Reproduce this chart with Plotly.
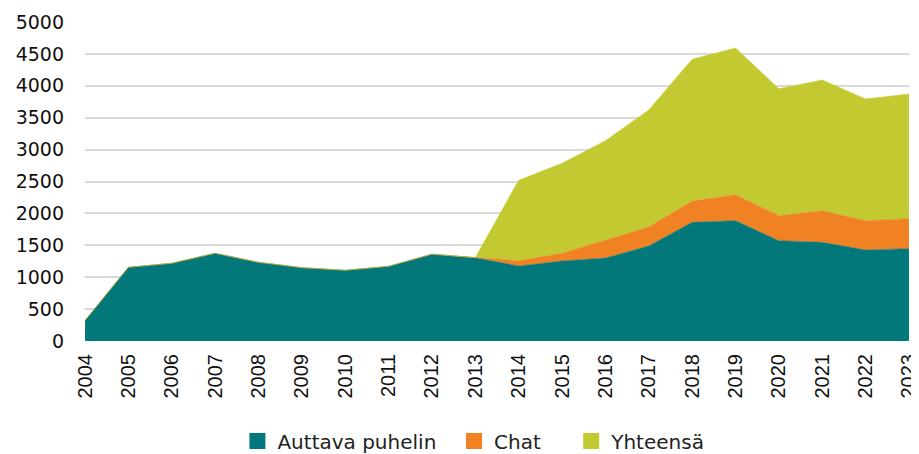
import plotly.graph_objects as go

years = list(range(2004, 2024))
auttava = [320, 1155, 1218, 1375, 1233, 1150, 1108, 1170, 1360, 1306,
           1175, 1254, 1300, 1489, 1860, 1886, 1572, 1546, 1426, 1447]
chat = [0, 0, 0, 0, 0, 0, 0, 0, 0, 0,
        84, 121, 283, 298, 334, 407, 392, 496, 460, 470]
yhteensa = [0, 0, 0, 0, 0, 0, 0, 0, 0, 0,
            1260, 1410, 1557, 1834, 2221, 2299, 1991, 2049, 1907, 1955]

FONT = "DejaVu Sans"
NB = "\u00a0"
fig = go.Figure()
series = [("Auttava puhelin", auttava, "#03787A", 2),
          ("Chat", chat, "#F08224", 4),
          ("Yhteensä", yhteensa, "#C3CA31", 0)]
for name, vals, col, pad in series:
    fig.add_trace(go.Scatter(
        x=years, y=vals, name=name, mode="lines", stackgroup="one",
        line=dict(width=0.5, color=col), fillcolor=col, showlegend=False,
    ))
    fig.add_trace(go.Scatter(x=[None], y=[None], name=name + NB * pad, mode="markers",
                             marker=dict(symbol="square", size=16, color=col),
                             showlegend=True))

# page body has an 8px margin, so the figure is drawn 8px smaller and offset
fig.update_layout(
    width=911, height=446,
    margin=dict(l=77, r=10, t=14, b=113, autoexpand=False),
    paper_bgcolor="white", plot_bgcolor="white",
    font=dict(family=FONT, size=18, color="#222222"),
    showlegend=True,
    legend=dict(orientation="h", x=0.472, xanchor="center", y=-0.3135, yanchor="middle",
                font=dict(size=20), itemwidth=30, traceorder="normal",
                tracegroupgap=0),
    xaxis=dict(range=[2003.999, 2023.001], tickmode="array", tickvals=years,
               ticktext=[str(y) for y in years], tickangle=-90, automargin=False,
               showgrid=False, zeroline=False, showline=False, ticks="",
               ticklabelstandoff=8, ticklabeloverflow="allow",
               tickfont=dict(family="Liberation Sans", size=20, color="#111111")),
    yaxis=dict(range=[0, 5000], dtick=500, showgrid=True, gridcolor="#d9d9d9",
               gridwidth=1.5, zeroline=False, showline=False, ticks="",
               ticklabelstandoff=20, automargin=False,
               tickfont=dict(size=19, color="#111111")),
)
fig.write_html("out.html")
